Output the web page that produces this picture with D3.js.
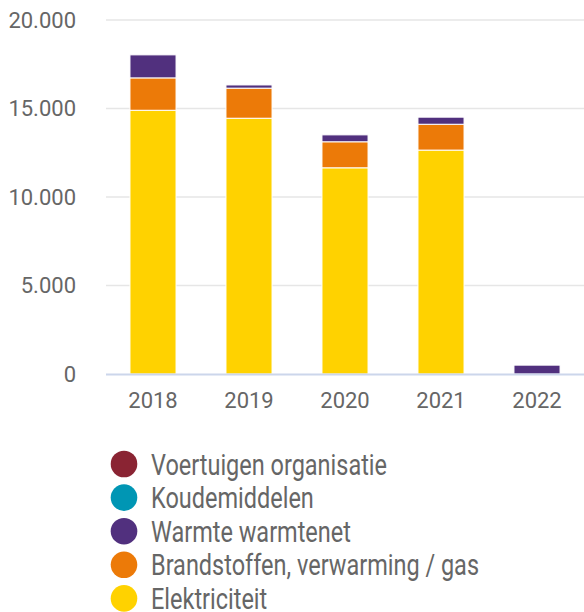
<!DOCTYPE html>
<html>
<head>
<meta charset="utf-8">
<script src="https://cdn.jsdelivr.net/npm/d3@7"></script>
<style>
  body { margin: 0; background: #fff; }
  svg { display: block; font-family: Roboto, sans-serif; }
</style>
</head>
<body>
<div id="chart"></div>
<script>
// data
const years = ["2018", "2019", "2020", "2021", "2022"];
const seriesNames = ["Elektriciteit", "Brandstoffen, verwarming / gas", "Warmte warmtenet", "Koudemiddelen", "Voertuigen organisatie"];
const elektriciteit = [14900, 14450, 11650, 12650, 0];
const brandstoffen = [1830, 1700, 1470, 1460, 0];
const warmte = [1300, 180, 390, 400, 500];
const koudemiddelen = [0, 0, 0, 0, 0];
const voertuigen = [0, 0, 0, 0, 0];
const yTicks = [0, 5000, 10000, 15000, 20000];
const colors = ["#ffd200", "#ec7a08", "#51307e", "#0096b4", "#8a2433"];

class StackChart {
    constructor(_parentElement) {
        this.parentElement = _parentElement;
        this.initVis();
    }

    initVis() {
        let vis = this;
        vis.width = 584;
        vis.height = 612;

        vis.svg = d3.select(`#${vis.parentElement}`)
            .append("svg")
            .attr("width", vis.width)
            .attr("height", vis.height);

        vis.x = d3.scaleBand().domain(years).range([105, 585]).paddingInner(0.52).paddingOuter(0.26);
        vis.y = d3.scaleLinear().domain([0, 20000]).range([374, 20]);

        const fmt = d => d3.format(",")(d).replace(/,/g, ".");

        // gridlines
        vis.svg.selectAll(".grid")
            .data(yTicks.filter(d => d > 0))
            .enter().append("line")
            .attr("class", "grid")
            .attr("x1", 106).attr("x2", 584)
            .attr("y1", d => vis.y(d)).attr("y2", d => vis.y(d))
            .attr("stroke", "#e6e6e6")
            .attr("stroke-width", 1.5);

        // y labels
        vis.svg.selectAll(".ylab")
            .data(yTicks)
            .enter().append("text")
            .attr("class", "ylab")
            .attr("x", 76)
            .attr("y", d => vis.y(d))
            .attr("dy", "0.36em")
            .attr("text-anchor", "end")
            .attr("font-size", 22)
            .attr("fill", "#666666")
            .text(fmt);

        // stacked bars
        const rows = years.map((yr, i) => ({
            year: yr,
            s0: elektriciteit[i], s1: brandstoffen[i], s2: warmte[i], s3: koudemiddelen[i], s4: voertuigen[i]
        }));
        const stack = d3.stack().keys(["s0", "s1", "s2", "s3", "s4"])(rows);

        vis.svg.selectAll(".layer")
            .data(stack)
            .enter().append("g")
            .attr("class", "layer")
            .attr("fill", (d, i) => colors[i])
            .selectAll("rect")
            .data(d => d.filter(p => p[1] - p[0] > 0))
            .enter().append("rect")
            .attr("x", d => vis.x(d.data.year))
            .attr("width", vis.x.bandwidth())
            .attr("y", d => vis.y(d[1]))
            .attr("height", d => vis.y(d[0]) - vis.y(d[1]))
            .attr("stroke", "#fff")
            .attr("stroke-width", 1);

        // baseline
        vis.svg.append("line")
            .attr("x1", 106).attr("x2", 584)
            .attr("y1", 374.5).attr("y2", 374.5)
            .attr("stroke", "#ccd6eb")
            .attr("stroke-width", 2);

        // x labels
        vis.svg.selectAll(".xlab")
            .data(years)
            .enter().append("text")
            .attr("class", "xlab")
            .attr("x", d => vis.x(d) + vis.x.bandwidth() / 2)
            .attr("y", 408)
            .attr("text-anchor", "middle")
            .attr("font-size", 22)
            .attr("fill", "#666666")
            .text(d => d);

        vis.drawLegend();
    }

    drawLegend() {
        let vis = this;
        // legend order: top to bottom is reverse of stack order
        const items = seriesNames.map((n, i) => ({ name: n, color: colors[i] })).reverse();

        const leg = vis.svg.selectAll(".legend")
            .data(items)
            .enter().append("g")
            .attr("class", "legend")
            .attr("transform", (d, i) => `translate(124, ${464 + i * 33.6})`);

        leg.append("circle")
            .attr("r", 13.3)
            .attr("fill", d => d.color);

        leg.append("text")
            .attr("transform", "translate(27, 10.5) scale(0.81, 1)")
            .attr("font-size", 29)
            .attr("fill", "#666666")
            .text(d => d.name);
    }
}

new StackChart("chart");
</script>
</body>
</html>
